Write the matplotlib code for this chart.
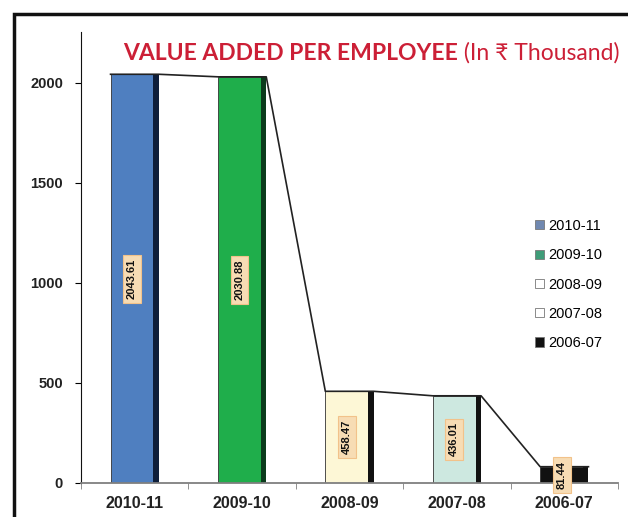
import matplotlib.pyplot as plt
from matplotlib.patches import Patch, Rectangle
import numpy as np

years = ['2010-11', '2009-10', '2008-09', '2007-08', '2006-07']
value_added = [2043.61, 2030.88, 458.47, 436.01, 81.44]
face_colors = ['#4f7fc0', '#1fae4b', '#fdf7d6', '#cde8e0', '#111111']
side_colors = ['#0e1e3a', '#0b3b1c', '#111111', '#111111', '#111111']
legend_colors = ['#7088b0', '#3f9c78', '#ffffff', '#ffffff', '#111111']
y_ticks = [0, 500, 1000, 1500, 2000]
title_main = 'VALUE ADDED PER EMPLOYEE'
title_unit = '(In ₹ Thousand)'

title_color = '#cc1f36'
fonts = ['Lato', 'DejaVu Sans']
plt.rcParams['font.family'] = ['Liberation Sans', 'DejaVu Sans']

fig = plt.figure(figsize=(6.28, 5.17), dpi=100)
ax = fig.add_axes([81/628, 34/517, 537/628, 451/517])

x = np.arange(len(years))
front_w = 0.40
side_w = 0.05
left = x - (front_w + side_w) / 2

# front face + dark side strip for the pseudo-3D look
ax.bar(left, value_added, width=front_w, align='edge', color=face_colors,
       edgecolor='#333333', linewidth=0.6, zorder=2)
ax.bar(left + front_w, value_added, width=side_w, align='edge',
       color=side_colors, linewidth=0, zorder=2)

# trend line running over the bar tops
xs, ys = [], []
for l, v in zip(left, value_added):
    xs += [l, l + front_w + side_w]
    ys += [v, v]
ax.plot(xs, ys, color='#222222', lw=1.2, zorder=3)

for l, v in zip(left, value_added):
    ax.text(l + front_w / 2, v / 2, f'{v:.2f}', rotation=90, ha='center',
            va='center', fontsize=8, fontweight='bold', color='#111111', zorder=4,
            bbox=dict(boxstyle='square,pad=0.35', fc='#f7dcb4', ec='#f2c28a', lw=0.8))

ax.set_xlim(-0.5, 4.5)
ax.set_ylim(0, 2255)
ax.set_yticks(y_ticks)
ax.set_xticks(x, years)
ax.set_xticks(np.arange(-0.5, 5, 1), minor=True)
ax.tick_params(axis='x', which='major', length=0, pad=9, labelsize=11.5)
ax.tick_params(axis='x', which='minor', length=4, color='#7f7f7f', direction='out')
ax.tick_params(axis='y', length=4, pad=9, labelsize=10.5)
for lab in ax.get_xticklabels() + ax.get_yticklabels():
    lab.set_fontweight('bold')
    lab.set_color('#222222')

for s in ['top', 'right']:
    ax.spines[s].set_visible(False)
ax.spines['left'].set_color('#111111')
ax.spines['bottom'].set_color('#7f7f7f')
ax.spines['bottom'].set_linewidth(1.3)

handles = [Patch(fc=c, ec='#777777', lw=0.6) for c in legend_colors]
ax.legend(handles, years, loc='upper left', bbox_to_anchor=(535/628, 1 - 219/517),
          bbox_transform=fig.transFigure, frameon=False, fontsize=10.5,
          handlelength=0.6, handleheight=0.6, handletextpad=0.3,
          labelspacing=1.05, borderpad=0, borderaxespad=0)

t1 = fig.text(123/628, 1 - 53/517, title_main, ha='left', va='center', fontsize=16.5,
              fontweight='bold', color=title_color, family=fonts)
ax.annotate(' ' + title_unit, xy=(1, 0), xycoords=t1, va='bottom', ha='left',
            fontsize=16.5, color=title_color, family=fonts)

fig.add_artist(Rectangle((14/628, -0.1), 1.2, 1.1 - 14/517, transform=fig.transFigure,
                         fill=False, ec='#111111', lw=2.5))

fig.savefig('out.png', dpi=100)
